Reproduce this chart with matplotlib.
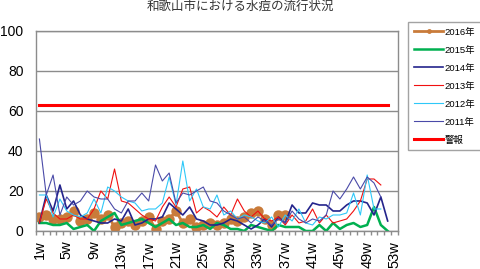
import matplotlib
matplotlib.use("Agg")
import matplotlib.pyplot as plt
from matplotlib.lines import Line2D
import numpy as np

plt.rcParams['font.family'] = ['Liberation Sans', 'Noto Sans CJK JP', 'DejaVu Sans']

# ----- data -----
title = "和歌山市における水痘の流行状況"
week_labels = ["1w", "5w", "9w", "13w", "17w", "21w", "25w", "29w", "33w", "37w",
               "41w", "45w", "49w", "53w"]
week_label_pos = [1, 5, 9, 13, 17, 21, 25, 29, 33, 37, 41, 45, 49, 53]

y2016 = [7, 8, 6, 6, 7, 10, 5, 6, 9, 6, 8, 2, 4, 5, 3, 5, 7, 1, 5, 6,
         10, 4, 6, 2, 3, 4, 3, 4, 6, 5, 7, 9, 10, 6, 3, 8, 8]
y2015 = [4, 4, 3, 3, 4, 1, 2, 3, 0, 5, 7, 9, 3, 4, 5, 6, 4, 2, 4, 6,
         3, 4, 2, 2, 3, 1, 4, 3, 1, 1, 0, 3, 2, 1, 0, 3, 2, 2, 2, 0,
         0, 3, 0, 4, 1, 3, 4, 2, 3, 12, 3, 0]
y2014 = [4, 18, 10, 23, 11, 15, 8, 6, 5, 4, 4, 6, 5, 11, 3, 4, 6, 6, 7, 14,
         11, 8, 12, 6, 5, 3, 3, 4, 6, 5, 3, 1, 3, 6, 2, 7, 4, 13, 9, 9,
         14, 13, 13, 10, 10, 13, 15, 15, 14, 8, 17, 5]
y2013 = [4, 16, 9, 6, 6, 8, 6, 6, 11, 20, 16, 31, 15, 14, 11, 8, 6, 5, 12, 17,
         12, 21, 22, 9, 12, 10, 7, 12, 8, 16, 10, 7, 10, 6, 5, 7, 3, 8, 4, 5,
         11, 4, 8, 4, 5, 6, 10, 15, 26, 26, 23]
y2012 = [18, 18, 7, 16, 10, 8, 7, 9, 16, 9, 22, 20, 17, 15, 14, 10, 11, 11, 14, 27,
         13, 35, 15, 21, 12, 11, 18, 8, 10, 6, 8, 7, 5, 4, 7, 2, 8, 5, 11, 4,
         3, 7, 6, 8, 8, 9, 19, 8, 28, 11, 11]
y2011 = [46, 18, 28, 8, 17, 13, 15, 20, 17, 16, 16, 11, 9, 15, 15, 19, 15, 33, 25, 29,
         14, 19, 18, 20, 22, 15, 14, 10, 8, 6, 7, 4, 7, 5, 3, 6, 4, 10, 6, 4,
         6, 5, 8, 20, 16, 21, 27, 21, 27, 24, 17]
alarm = [63] * 52

series = [
    ("2016年", y2016, "#c97b3a", 2.0),
    ("2015年", y2015, "#00b050", 1.8),
    ("2014年", y2014, "#24248c", 1.2),
    ("2013年", y2013, "#f01010", 0.8),
    ("2012年", y2012, "#2ec8f8", 0.8),
    ("2011年", y2011, "#4a4aa8", 0.8),
    ("警報", alarm, "#ff0000", 2.2),
]

fig = plt.figure(figsize=(4.8, 2.69), dpi=100)
ax = fig.add_axes([0.075, 0.1413, 0.754, 0.7435])

handles = []
for name, vals, col, lw in series:
    x = np.arange(1, len(vals) + 1)
    if name == "2016年":
        ax.plot(x, vals, color=col, lw=lw, marker="o", ms=7.5,
                markeredgewidth=0, solid_joinstyle="round")
        handles.append(Line2D([], [], color=col, lw=lw, marker="o", ms=3.5,
                              markeredgewidth=0, label=name))
    else:
        ax.plot(x, vals, color=col, lw=lw)
        handles.append(Line2D([], [], color=col, lw=lw, label=name))

ax.set_xlim(0.5, 53.5)
ax.set_ylim(0, 100)
ax.set_yticks([0, 20, 40, 60, 80, 100])
ax.grid(axis="y", color="#8c8c8c", lw=1)
ax.set_axisbelow(True)
for s in ax.spines.values():
    s.set_color("#8c8c8c")
    s.set_linewidth(1)

ax.tick_params(axis="y", length=0, pad=9, labelsize=10)
ax.set_xticks(week_label_pos)
ax.set_xticklabels(week_labels, rotation=90)
ax.set_xticks(np.arange(0.5, 54, 1), minor=True)
ax.tick_params(axis="x", which="major", length=0, pad=7, labelsize=10.5)
ax.tick_params(axis="x", which="minor", length=3, color="#8c8c8c", width=1)

fig.text(0.5, 0.972, title, ha="center", va="center", fontsize=9,
         family=["Noto Sans CJK JP"], color="#333333")

leg = fig.legend(handles=handles, loc="upper left", bbox_to_anchor=(0.851, 0.918),
                 fontsize=6.8, frameon=True, fancybox=False, handlelength=3.1,
                 handletextpad=0.1, labelspacing=0.95, borderpad=0.6,
                 borderaxespad=0)
leg.get_frame().set_edgecolor("#8c8c8c")
leg.get_frame().set_linewidth(1)
for t in leg.get_texts():
    t.set_family(["Liberation Sans", "Noto Sans CJK JP"])

fig.savefig("out.png", dpi=100)
